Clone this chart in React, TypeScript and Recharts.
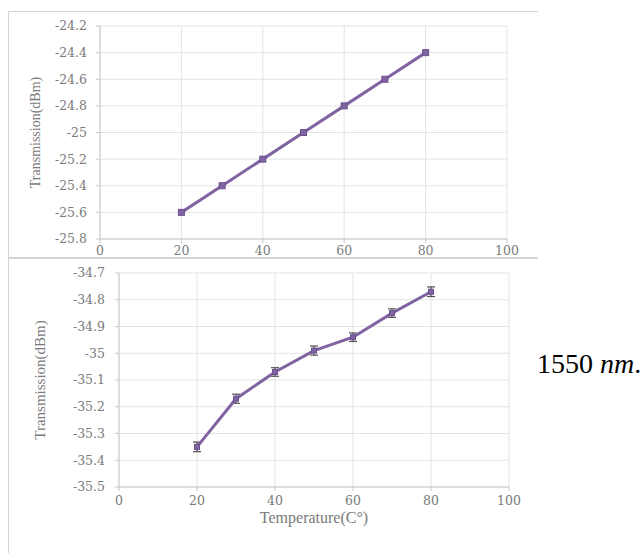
import { CartesianGrid, ErrorBar, Line, LineChart, XAxis, YAxis } from "recharts";

const temps = [20, 30, 40, 50, 60, 70, 80];
const topTransmission = [-25.6, -25.4, -25.2, -25.0, -24.8, -24.6, -24.4];
const topError = [0.012, 0.012, 0.012, 0.012, 0.012, 0.012, 0.012];
const bottomTransmission = [-35.35, -35.17, -35.07, -34.99, -34.94, -34.85, -34.77];
const bottomError = [0.018, 0.017, 0.016, 0.017, 0.016, 0.016, 0.018];

const xTicks = [0, 20, 40, 60, 80, 100];
const topYTicks = [-25.8, -25.6, -25.4, -25.2, -25.0, -24.8, -24.6, -24.4, -24.2];
const bottomYTicks = [-35.5, -35.4, -35.3, -35.2, -35.1, -35.0, -34.9, -34.8, -34.7];

const topData = temps.map((t, i) => ({ t, v: topTransmission[i], err: topError[i] }));
const bottomData = temps.map((t, i) => ({ t, v: bottomTransmission[i], err: bottomError[i] }));

const purple = "#8064A2";
const grid = "#e3e3e3";
const frame = "#d4d4d4";
const serif = "Liberation Serif";
const tickStyle = { fontFamily: "DejaVu Serif", fontSize: 12.5, fill: "#7a7a7a" };
const fmt = (v: number) => String(Number(v.toFixed(1)));

const squareDot = (size: number) => (props: any) => (
  <rect
    key={`d-${props.index}`}
    x={props.cx - size / 2}
    y={props.cy - size / 2}
    width={size}
    height={size}
    fill={purple}
    stroke="#6a5090"
    strokeWidth={1}
  />
);

function TopChart() {
  return (
    <LineChart width={644} height={258} data={topData} margin={{ top: 26, right: 137, bottom: 0, left: 0 }}>
      <CartesianGrid stroke={grid} />
      <XAxis
        dataKey="t"
        type="number"
        domain={[0, 100]}
        ticks={xTicks}
        height={19}
        stroke="#c8c8c8"
        tickSize={4}
        tickMargin={3}
        tick={tickStyle}
      />
      <YAxis
        type="number"
        domain={[-25.8, -24.2]}
        ticks={topYTicks}
        tickFormatter={fmt}
        width={100}
        stroke="#c8c8c8"
        tickSize={4}
        tickMargin={9}
        tick={tickStyle}
        label={{
          value: "Transmission(dBm)",
          angle: -90,
          position: "insideLeft",
          offset: 35,
          style: { textAnchor: "middle", fontFamily: serif, fontSize: 14, fill: "#7a7a7a" },
        }}
      />
      <Line dataKey="v" type="linear" stroke={purple} strokeWidth={3} dot={squareDot(6)} isAnimationActive={false}>
        <ErrorBar dataKey="err" width={3} stroke="#505050" strokeWidth={1} direction="y" isAnimationActive={false} />
      </Line>
    </LineChart>
  );
}

function BottomChart() {
  return (
    <LineChart width={644} height={295} data={bottomData} margin={{ top: 15, right: 135, bottom: 0, left: 0 }}>
      <CartesianGrid stroke={grid} />
      <XAxis
        dataKey="t"
        type="number"
        domain={[0, 100]}
        ticks={xTicks}
        height={66}
        stroke="#c8c8c8"
        tickSize={4}
        tickMargin={5}
        tick={tickStyle}
        label={{
          value: "Temperature(C°)",
          position: "insideTop",
          offset: 25,
          style: { fontFamily: serif, fontSize: 16, fill: "#7a7a7a" },
        }}
      />
      <YAxis
        type="number"
        domain={[-35.5, -34.7]}
        ticks={bottomYTicks}
        tickFormatter={fmt}
        width={119}
        stroke="#c8c8c8"
        tickSize={4}
        tickMargin={10}
        tick={tickStyle}
        label={{
          value: "Transmission(dBm)",
          angle: -90,
          position: "insideLeft",
          offset: 40,
          style: { textAnchor: "middle", fontFamily: serif, fontSize: 15, fill: "#7a7a7a" },
        }}
      />
      <Line dataKey="v" type="linear" stroke={purple} strokeWidth={3} dot={squareDot(5)} isAnimationActive={false}>
        <ErrorBar dataKey="err" width={4} stroke="#505050" strokeWidth={1.2} direction="y" isAnimationActive={false} />
      </Line>
    </LineChart>
  );
}

export default function App() {
  return (
    <div style={{ position: "absolute", left: 0, top: 0, width: 644, height: 553, background: "#fff", overflow: "hidden" }}>
      <div style={{ position: "absolute", left: 8, top: 11, width: 530, height: 1, background: frame }} />
      <div style={{ position: "absolute", left: 8, top: 11, width: 1, height: 542, background: frame }} />
      <div style={{ position: "absolute", left: 0, top: 0 }}>
        <TopChart />
      </div>
      <div style={{ position: "absolute", left: 0, top: 258 }}>
        <BottomChart />
      </div>
      <div style={{ position: "absolute", left: 8, top: 257, width: 530, height: 2, background: frame }} />
      <svg style={{ position: "absolute", left: 530, top: 340 }} width={114} height={45}>
        <text x={7} y={33} fontFamily="Liberation Serif" fontSize={28} fill="#000">
          1550 <tspan fontStyle="italic">nm</tspan>.
        </text>
      </svg>
    </div>
  );
}
